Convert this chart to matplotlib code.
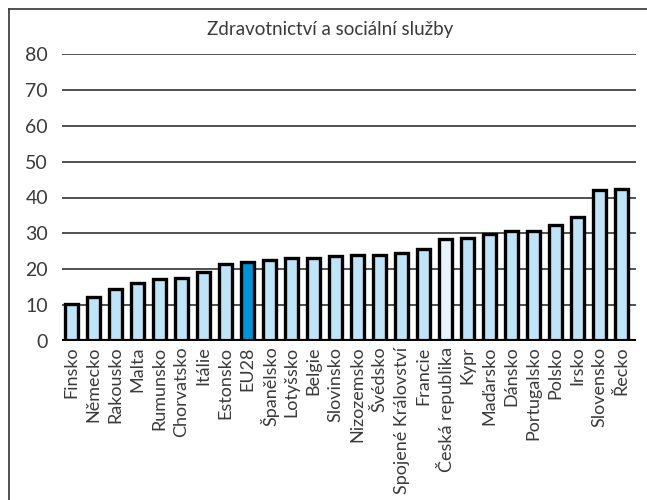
import matplotlib
matplotlib.use("Agg")
import matplotlib.pyplot as plt
from matplotlib.lines import Line2D

title = "Zdravotnictví a sociální služby"
categories = ["Finsko", "Německo", "Rakousko", "Malta", "Rumunsko", "Chorvatsko",
              "Itálie", "Estonsko", "EU28", "Španělsko", "Lotyšsko", "Belgie",
              "Slovinsko", "Nizozemsko", "Švédsko", "Spojené Království", "Francie",
              "Česká republika", "Kypr", "Maďarsko", "Dánsko", "Portugalsko",
              "Polsko", "Irsko", "Slovensko", "Řecko"]
values = [10.4, 12.4, 14.6, 16.1, 17.2, 17.7, 19.2, 21.4, 22.0, 22.5, 23.0, 23.0,
          23.6, 24.1, 24.1, 24.6, 25.7, 28.3, 28.8, 29.9, 30.8, 30.8, 32.4, 34.5,
          42.0, 42.5]
yticks = [0, 10, 20, 30, 40, 50, 60, 70, 80]

base_color = "#bfe4f8"
eu_color = "#0093d5"
cz_color = "#e8f4fd"
colors = []
for c in categories:
    if c == "EU28":
        colors.append(eu_color)
    elif c == "Česká republika":
        colors.append(cz_color)
    else:
        colors.append(base_color)

plt.rcParams['font.family'] = ['Lato', 'DejaVu Sans']
txt_color = "#3a3a3a"

fig = plt.figure(figsize=(6.47, 5.0), dpi=100)
ax = fig.add_axes([0.0958, 0.318, 0.887, 0.574])

x = list(range(len(categories)))
ax.bar(x, values, width=0.6, color=colors, edgecolor="black", linewidth=2.4, zorder=3)

ax.set_ylim(0, 80)
ax.set_xlim(-0.43, len(categories) - 1 + 0.64)
ax.set_yticks(yticks)
ax.set_yticklabels([str(t) for t in yticks], fontsize=14, color=txt_color)
for t in yticks[1:]:
    ax.axhline(t, color="#333333", linewidth=1.2, zorder=1)
ax.axhline(0, color="black", linewidth=3, zorder=4)

ax.set_xticks(x)
ax.set_xticklabels(categories, rotation=90, fontsize=13, color=txt_color)
ax.tick_params(axis='both', length=0)
ax.tick_params(axis='y', pad=10)
ax.tick_params(axis='x', pad=4)
for s in ax.spines.values():
    s.set_visible(False)

fig.text(330 / 647, 1 - 30 / 500, title, ha="center", va="center", fontsize=13.5,
         color=txt_color)

# outer frame (left and top edges visible)
fig.add_artist(Line2D([9 / 647, 9 / 647], [0, 1 - 9 / 500], transform=fig.transFigure,
                      color="#333333", linewidth=1.2))
fig.add_artist(Line2D([9 / 647, 1], [1 - 9 / 500, 1 - 9 / 500], transform=fig.transFigure,
                      color="#333333", linewidth=1.2))

fig.savefig("out.png", dpi=100)
